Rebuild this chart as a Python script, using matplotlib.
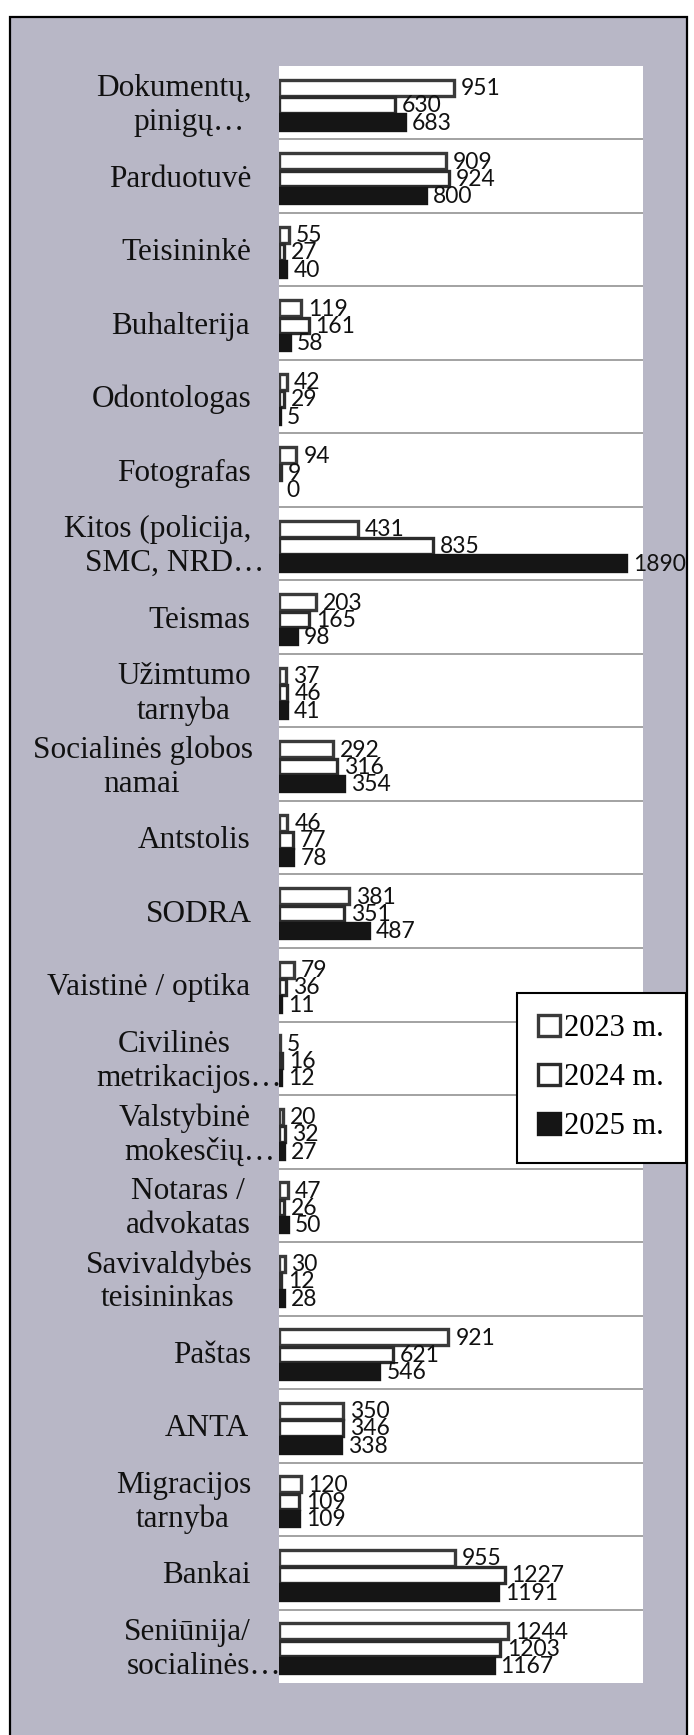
import numpy as np
import matplotlib
matplotlib.use('Agg')
import matplotlib.pyplot as plt
from matplotlib.patches import Rectangle
from matplotlib.textpath import TextPath
from matplotlib.font_manager import FontProperties

# duomenys (iš viršaus į apačią)
categories = [
    "Dokumentų,\npinigų…", "Parduotuvė", "Teisininkė", "Buhalterija",
    "Odontologas", "Fotografas", "Kitos (policija,\nSMC, NRD…", "Teismas",
    "Užimtumo\ntarnyba", "Socialinės globos\nnamai", "Antstolis", "SODRA",
    "Vaistinė / optika", "Civilinės\nmetrikacijos…", "Valstybinė\nmokesčių…",
    "Notaras /\nadvokatas", "Savivaldybės\nteisininkas", "Paštas", "ANTA",
    "Migracijos\ntarnyba", "Bankai", "Seniūnija/\nsocialinės…",
]
v2023 = [951, 909, 55, 119, 42, 94, 431, 203, 37, 292, 46, 381, 79, 5, 20,
         47, 30, 921, 350, 120, 955, 1244]
v2024 = [630, 924, 27, 161, 29, 9, 835, 165, 46, 316, 77, 351, 36, 16, 32,
         26, 12, 621, 346, 109, 1227, 1203]
v2025 = [683, 800, 40, 58, 5, 0, 1890, 98, 41, 354, 78, 487, 11, 12, 27,
         50, 28, 546, 338, 109, 1191, 1167]
series_names = ["2023 m.", "2024 m.", "2025 m."]

W, H = 694, 1735
fig = plt.figure(figsize=(W / 100, H / 100), dpi=100)
fig.patch.set_facecolor('white')

# pilkas skenuotas fonas su rėmeliu
bg = Rectangle((10 / W, -0.01), 677 / W, 1.01 - 17 / H,
               transform=fig.transFigure, facecolor='#b8b7c6',
               edgecolor='black', linewidth=1.6, zorder=-1)
fig.patches.append(bg)

left, right, top, bottom = 279, 643, 66, 1683
ax = fig.add_axes([left / W, 1 - bottom / H, (right - left) / W, (bottom - top) / H])
ax.set_zorder(2)
ax.set_facecolor('white')

n = len(categories)
y = np.arange(n)
h = 0.215
styles = [
    dict(color='white', edgecolor='#3a3a3a'),
    dict(color='white', edgecolor='#2c2c2c'),
    dict(color='#151515', edgecolor='#151515'),
]
bars = []
for k, vals in enumerate([v2023, v2024, v2025]):
    pos = y + 0.03 + (k - 1) * h * 1.08
    b = ax.barh(pos, vals, height=h, linewidth=2.4,
                label=series_names[k], zorder=3, **styles[k])
    for patch, v in zip(b.patches, vals):
        if v == 0:
            patch.set_linewidth(0)
    bars.append(b)
    for yi, v in zip(pos, vals):
        ax.annotate(str(v), (v, yi), xytext=(7, -1), textcoords='offset pixels',
                    ha='left', va='center', fontsize=16.5, family=['Lato', 'DejaVu Sans'],
                    color='#111111', zorder=5)

for yi in y[:-1]:
    ax.axhline(yi + 0.5, color='#9b9b9b', linewidth=1.3, zorder=1)

ax.set_xlim(0, 1980)
ax.set_ylim(n - 0.5, -0.5)
ax.set_xticks([])
ax.set_yticks([])
for s in ax.spines.values():
    s.set_visible(False)

# kategorijų pavadinimai, centruoti eilutėmis, su "…" išlindimu
fp = FontProperties(family='Liberation Serif', size=22.5)
px = 100 / 72


def text_w(s):
    if not s:
        return 0
    return TextPath((0, 0), s, prop=fp).get_extents().width * px


gap = 30
line_h = 34
for i, lab in enumerate(categories):
    lines = lab.split('\n')
    base = [l.rstrip('…') for l in lines]
    bw = max(text_w(b) for b in base)
    cx = -gap - bw / 2
    for j, (full, b) in enumerate(zip(lines, base)):
        dy = ((len(lines) - 1) / 2 - j) * line_h
        ax.annotate(full, (0, i), xycoords=('axes fraction', 'data'),
                    xytext=(cx - text_w(b) / 2, dy - 3), textcoords='offset pixels',
                    ha='left', va='center', fontproperties=fp, color='#111111',
                    annotation_clip=False)

leg = fig.legend(handles=bars, loc='upper left',
                 bbox_to_anchor=(517 / W, 1 - 993 / H), bbox_transform=fig.transFigure,
                 borderaxespad=0, prop=FontProperties(family='Liberation Serif', size=22),
                 handlelength=0.7, handleheight=0.7, handletextpad=0.15,
                 labelspacing=0.65, borderpad=0.7, fancybox=False, framealpha=1)
leg.get_frame().set_edgecolor('black')
leg.get_frame().set_linewidth(1.5)
leg.set_zorder(10)

fig.savefig('out.png', dpi=100)
